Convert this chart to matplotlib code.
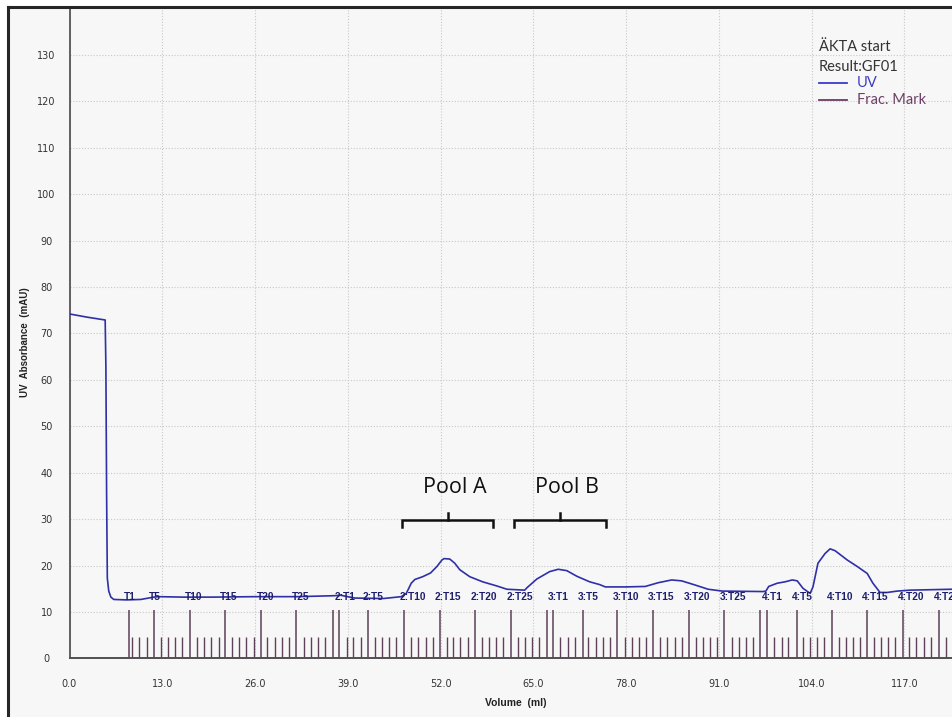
import matplotlib
matplotlib.use("Agg")
import matplotlib.pyplot as plt
from matplotlib.lines import Line2D
from matplotlib.patches import Rectangle

# ---------------- data ----------------
# UV trace: elution volume (ml) and absorbance (mAU)
uv_volume = [0.0, 2.5, 5.0, 5.1, 5.2, 5.3, 5.5, 5.8, 6.2, 8.0, 10.0, 11.8, 12.5,
             16.0, 20.0, 26.0, 32.0, 37.0, 38.0, 40.0, 44.0, 46.5, 47.2, 47.9,
             48.4, 49.5, 50.6, 51.5, 52.2, 52.5, 53.3, 54.0, 54.7, 56.1, 57.9,
             59.9, 61.3, 63.8, 64.1, 65.5, 67.3, 68.5, 69.7, 71.1, 72.9, 74.3,
             75.1, 78.0, 80.7, 82.5, 84.4, 85.8, 87.7, 89.5, 91.5, 97.2, 97.6,
             98.0, 99.2, 100.3, 101.3, 102.0, 102.8, 103.8, 104.2, 104.9, 105.9,
             106.6, 107.3, 109.0, 110.4, 111.8, 112.6, 113.6, 114.6, 116.0,
             117.8, 123.7]
uv_mau = [74.2, 73.5, 72.9, 62.8, 35.6, 17.3, 14.5, 13.2, 12.7, 12.6, 12.7, 13.2, 13.3,
          13.2, 13.2, 13.3, 13.3, 13.5, 13.6, 13.0, 12.9, 13.3, 14.0, 16.2,
          17.0, 17.6, 18.4, 19.8, 21.2, 21.5, 21.4, 20.5, 19.1, 17.6, 16.5,
          15.6, 14.9, 14.7, 15.2, 17.1, 18.7, 19.2, 18.9, 17.7, 16.5, 15.9,
          15.4, 15.4, 15.5, 16.3, 16.9, 16.7, 15.8, 14.9, 14.5, 14.4, 14.5,
          15.5, 16.2, 16.5, 16.9, 16.7, 15.1, 14.0, 15.4, 20.5, 22.6,
          23.6, 23.2, 21.2, 19.8, 18.3, 16.2, 14.2, 14.2, 14.5,
          14.7, 14.9]

# Fraction marks (ml): tall marks with their tube labels, short marks for other tubes
frac_major = [8.3, 11.8, 16.9, 21.8, 26.9, 31.8, 36.9, 37.8, 41.8, 46.9, 51.9,
              56.9, 61.9, 66.9, 67.7, 71.9, 76.8, 81.8, 86.8, 91.8, 96.8, 97.8,
              101.9, 106.8, 111.8, 116.8, 121.9]
frac_major_labels = ["T1", "T5", "T10", "T15", "T20", "T25", "", "2:T1", "2:T5",
                     "2:T10", "2:T15", "2:T20", "2:T25", "", "3:T1", "3:T5",
                     "3:T10", "3:T15", "3:T20", "3:T25", "", "4:T1", "4:T5",
                     "4:T10", "4:T15", "4:T20", "4:T25"]
frac_minor = [8.8, 9.8, 10.9, 12.8, 13.8, 14.8, 15.8, 17.8, 18.9, 19.8, 20.9,
              22.8, 23.8, 24.8, 25.8, 27.7, 28.8, 29.8, 30.8, 32.8, 33.9, 34.8,
              35.8, 38.9, 39.8, 40.9, 42.8, 43.8, 44.8, 45.8, 47.8, 48.9, 49.9,
              50.9, 52.9, 53.8, 54.8, 55.8, 57.8, 58.8, 59.8, 60.8, 62.8, 63.8,
              64.8, 65.8, 68.8, 69.8, 70.8, 72.7, 73.8, 74.8, 75.8, 77.8, 78.8,
              79.8, 80.8, 82.8, 83.8, 84.8, 85.8, 87.8, 88.8, 89.8, 90.8, 92.8,
              93.8, 94.8, 95.8, 98.8, 99.8, 100.7, 102.8, 103.8, 104.8, 105.7,
              107.8, 108.8, 109.8, 110.8, 112.8, 113.7, 114.7, 115.7, 117.7,
              118.7, 119.7, 120.7, 122.8]
frac_major_height = 10.4
frac_minor_height = 4.6

# Pooled fraction ranges (ml) and their names
pool_names = ["Pool A", "Pool B"]
pool_start = [46.6, 62.3]
pool_end = [59.4, 75.2]

x_ticks = [0.0, 13.0, 26.0, 39.0, 52.0, 65.0, 78.0, 91.0, 104.0, 117.0]
y_ticks = [0, 10, 20, 30, 40, 50, 60, 70, 80, 90, 100, 110, 120, 130]

# ---------------- layout ----------------
W, H = 952, 717
fig = plt.figure(figsize=(W / 100, H / 100), dpi=100)
fig.patch.set_facecolor("white")


def fx(px):
    return px / W


def fy(py):
    return 1 - py / H


# panel background and frame
fig.add_artist(Rectangle((fx(8), 0), 1 - fx(8), fy(7), transform=fig.transFigure,
                         facecolor="#f7f7f7", edgecolor="none", zorder=0))
fig.add_artist(Line2D([fx(8), fx(8)], [0, fy(7)], color="#262626", lw=2.2, zorder=5))
fig.add_artist(Line2D([fx(8), 1], [fy(7), fy(7)], color="#262626", lw=2.2, zorder=5))

ax_left, ax_bottom, ax_top = 69.5, 658.4, 8.5
ax = fig.add_axes([fx(ax_left), fy(ax_bottom), 1 - fx(ax_left), fy(ax_top) - fy(ax_bottom)])
ax.set_facecolor("#f7f7f7")
ax.set_xlim(0, (W - ax_left) / 7.135)
ax.set_ylim(0, 140)

for s in ("top", "right"):
    ax.spines[s].set_visible(False)
ax.spines["left"].set_color("#606060")
ax.spines["left"].set_linewidth(1.4)
ax.spines["bottom"].set_color("#505050")
ax.spines["bottom"].set_linewidth(1.4)

ax.set_xticks(x_ticks)
ax.set_xticklabels([f"{v:.1f}" for v in x_ticks])
ax.set_yticks(y_ticks)
ax.set_yticklabels([str(v) for v in y_ticks])
ax.tick_params(axis="both", length=0, labelsize=7, labelcolor="#333333")
ax.tick_params(axis="x", pad=14.5)
ax.tick_params(axis="y", pad=16.5)
for lab in ax.get_yticklabels():
    lab.set_horizontalalignment("center")
ax.grid(True, color="#c9c9c9", linestyle=(0, (1, 1.6)), linewidth=0.8)
ax.set_axisbelow(True)

# fraction marks
mark_color = "#5e4059"
ax.vlines(frac_minor, 0, frac_minor_height, color=mark_color, lw=1.0, zorder=2)
ax.vlines(frac_major, 0, frac_major_height, color=mark_color, lw=1.1, zorder=2)

# UV absorbance curve
ax.plot(uv_volume, uv_mau, color="#2f2fa8", lw=1.2, zorder=3)

# tube labels
for v, lab in zip(frac_major, frac_major_labels):
    if lab:
        ax.text(v - 0.7, 13.3, lab, ha="left", va="center", fontsize=7.3,
                fontweight="bold", color="#1e1e6e", family="Liberation Sans", zorder=4)

# pool brackets
for name, x0, x1 in zip(pool_names, pool_start, pool_end):
    xm = (x0 + x1) / 2
    ax.plot([x0, x0, x1, x1], [28.3, 29.8, 29.8, 28.3], color="#111111", lw=1.8,
            solid_joinstyle="miter", zorder=4)
    ax.plot([xm, xm], [29.8, 31.3], color="#111111", lw=1.8, zorder=4)
    ax.text(xm + 1.0, 36.9, name, ha="center", va="center", fontsize=15.5,
            family="Open Sans", color="#111111", zorder=4)

# axis titles
fig.text(fx(516), fy(703), "Volume  (ml)", ha="center", va="center", fontsize=7.5,
         fontweight="bold", family="Liberation Sans", color="#222222")
fig.text(fx(25), fy(342), "UV  Absorbance  (mAU)", ha="center", va="center",
         rotation=90, fontsize=7, fontweight="bold", family="Liberation Sans",
         color="#222222")

# run information and legend
fig.text(fx(819), fy(47), "ÄKTA start", ha="left", va="center", fontsize=10.5,
         family="Lato", color="#333333")
fig.text(fx(819), fy(67), "Result:GF01", ha="left", va="center", fontsize=10.5,
         family="Lato", color="#333333")
fig.add_artist(Line2D([fx(819), fx(847)], [fy(83), fy(83)], color="#3a3ad0", lw=1.3))
fig.text(fx(857), fy(83), "UV", ha="left", va="center", fontsize=10.5,
         family="Lato", color="#3c3cc4")
fig.add_artist(Line2D([fx(819), fx(847)], [fy(100), fy(100)], color="#6b3b62", lw=1.3))
fig.text(fx(857), fy(100), "Frac. Mark", ha="left", va="center", fontsize=10.5,
         family="Lato", color="#6e3f68")

fig.savefig("out.png", dpi=100, facecolor=fig.get_facecolor())
